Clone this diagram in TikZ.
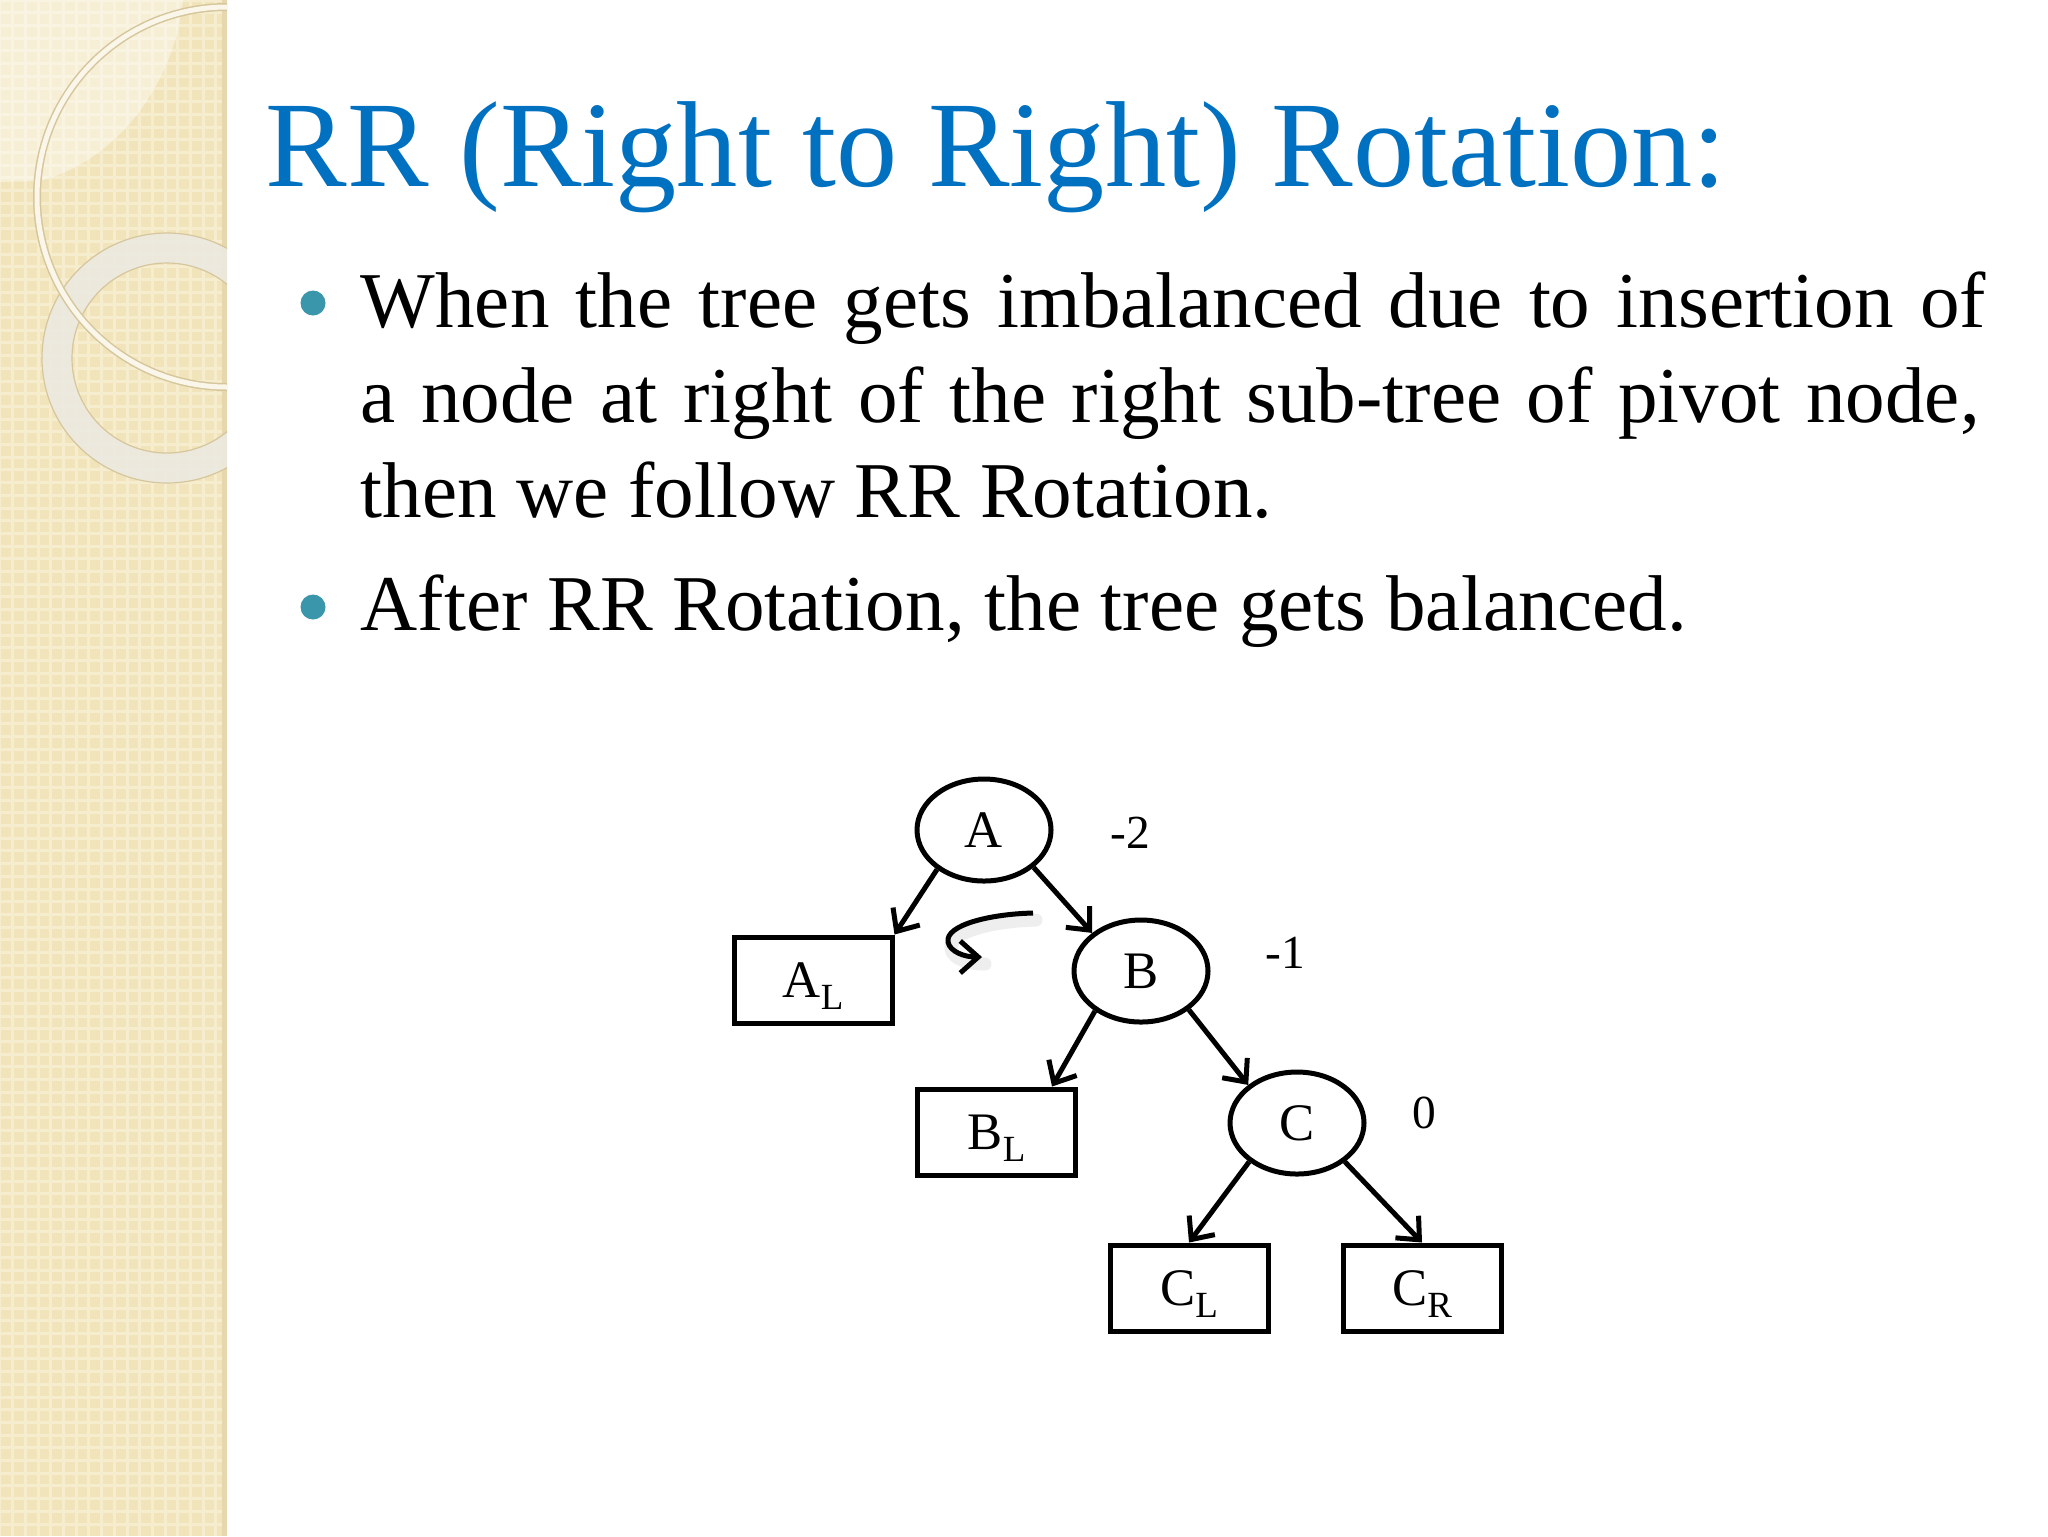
\documentclass[tikz,border=0pt]{standalone}
\usepackage{fontspec}
\setmainfont{Liberation Serif}
\usetikzlibrary{arrows.meta,shapes.geometric}

\definecolor{titleblue}{RGB}{0,112,192}
\definecolor{bulletteal}{RGB}{58,150,170}
\definecolor{sidebeige}{RGB}{241,227,186}
\definecolor{sidelight}{RGB}{246,236,206}
\definecolor{sideedge}{RGB}{230,215,174}
\definecolor{ringwhite}{RGB}{250,246,234}
\definecolor{ringgrey}{RGB}{236,233,224}
\definecolor{ringtan}{RGB}{214,198,156}

\newcommand{\lowsub}[1]{\smash{\raisebox{-1.2mm}{\fontsize{10.5}{11}\selectfont #1}}}

\tikzset{
  treeoval/.style={ellipse, draw, line width=0.5mm, minimum width=13.4mm,
    minimum height=10.2mm, inner sep=0pt, font=\fontsize{15}{15}\selectfont},
  subtree/.style={rectangle, draw, line width=0.5mm, minimum width=15.8mm,
    minimum height=8.6mm, inner sep=0pt, font=\fontsize{15}{15}\selectfont},
  balance/.style={anchor=base, inner sep=0pt, font=\fontsize{13.5}{13.5}\selectfont},
  link/.style={->, line width=0.5mm},
  bodyline/.style={anchor=base west, inner sep=0pt, font=\fontsize{22.5}{27}\selectfont},
}

\begin{document}
\begin{tikzpicture}[x=0.1mm, y=-0.1mm,
    >={Straight Barb[length=1.8mm, width=3.2mm]}]

  % Slide
  \useasboundingbox (0,0) rectangle (2048,1536);
  \fill[white] (0,0) rectangle (2048,1536);

  % Sidebar
  \fill[sidebeige] (0,0) rectangle (227,1536);
  \draw[sidelight, line width=0.3mm, step=1.27mm] (0,0) grid (227,1536);
  \fill[sideedge] (222,0) rectangle (227,1536);
  \begin{scope}
    \clip (0,0) rectangle (227,1536);
    \fill[white, opacity=0.4] (0,0) -- (183,0)
      .. controls (175,80) and (120,160) .. (40,181) -- (0,182) -- cycle;
    % thick ring
    \fill[ringgrey, opacity=0.9, even odd rule]
      (167,358) circle (12.5mm) (167,358) circle (9.5mm);
    \draw[ringtan, line width=0.12mm] (167,358) circle (12.5mm);
    \draw[ringtan, line width=0.12mm] (167,358) circle (9.5mm);
    % thin ring
    \draw[ringtan, line width=0.8mm] (227,197) circle (19mm);
    \draw[ringwhite, line width=0.5mm] (227,197) circle (19mm);
  \end{scope}

  % Title
  \node[anchor=base west, inner sep=0pt, text=titleblue,
    font=\fontsize{34.8}{40}\selectfont] (title) at (265,186)
    {RR (Right to Right) Rotation:};

  % Bullets
  \fill[bulletteal] (313,303) circle (1.25mm);
  \fill[bulletteal] (313,607) circle (1.25mm);

  \node[bodyline] (lineA) at (360,327)
    {\makebox[162.5mm][s]{When the tree gets imbalanced due to insertion of}};
  \node[bodyline] (lineB) at (360,422)
    {\makebox[161.9mm][s]{a node at right of the right sub-tree of pivot node,}};
  \node[bodyline] (lineC) at (360,517) {then we follow RR Rotation.};
  \node[bodyline] (lineD) at (360,630) {After RR Rotation, the tree gets balanced.};

  % Tree
  \node[treeoval] (A) at (984,830) {A};
  \node[treeoval] (B) at (1141,971) {B};
  \node[treeoval] (C) at (1297,1123) {C};

  \node[subtree] (AL) at (813,980) {A\lowsub{L}};
  \node[subtree] (BL) at (996.5,1132) {B\lowsub{L}};
  \node[subtree] (CL) at (1189,1288) {C\lowsub{L}};
  \node[subtree] (CR) at (1422,1288) {C\lowsub{R}};

  \node[balance] (balA) at (1130,848) {-2};
  \node[balance] (balB) at (1285,968) {-1};
  \node[balance] (balC) at (1424,1128) {0};

  \draw[link] (A.220) -- (AL.north east);
  \draw[link] (A.323) -- (B.142);
  \draw[link] (B.221) -- ([xshift=-2.6mm]BL.north east);
  \draw[link] (B.321) -- (C.142);
  \draw[link] (C.219) -- (CL.north);
  \draw[link] (C.321) -- (CR.north);

  % Rotation arrow
  \coordinate (rotS) at (1033,913);
  \coordinate (rotE) at (982,957);
  \draw[gray!50, opacity=0.25, line width=1.3mm, line cap=round]
    ([shift={(3,7)}]rotS) .. controls (993,921) and (948,932) .. (951,949)
    .. controls (953,959) and (968,964) .. ([shift={(3,7)}]rotE);
  \draw[->, line width=0.5mm]
    (rotS) .. controls (990,914) and (945,925) .. (948,942)
    .. controls (950,952) and (965,957) .. (rotE);

\end{tikzpicture}
\end{document}
